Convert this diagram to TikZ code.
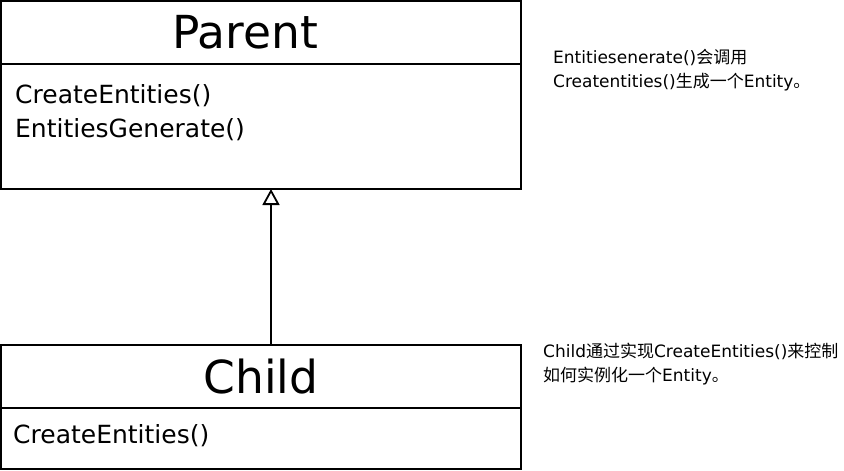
\documentclass[tikz,border=0pt]{standalone}
\usepackage{fontspec}
\setmainfont{DejaVu Sans}
\newfontfamily\cjk{Noto Sans CJK SC}
\usetikzlibrary{positioning,arrows.meta}

\begin{document}
\begin{tikzpicture}[
    x=1pt, y=-1pt,
    node distance=0pt,
    classname/.style={rectangle, draw=black, line width=1.8pt, outer sep=0pt, minimum width=520pt, minimum height=63pt, inner sep=0pt, font=\fontsize{45.5}{50}\selectfont},
    classbody/.style={rectangle, draw=black, line width=1.8pt, outer sep=0pt, minimum width=520pt, inner sep=0pt},
    member/.style={anchor=base west, inner sep=0pt, font=\fontsize{25}{30}\selectfont},
    note/.style={anchor=north west, inner sep=0pt, align=left, font=\fontsize{17}{24}\selectfont},
    inherit/.style={line width=1.8pt, -{Triangle[open, length=16pt, width=17pt]}}
]

\useasboundingbox (0,0) rectangle (844,471);

% Parent class
\node[classname, anchor=north west] (ptitle) at (1,1) {Parent\hspace*{32pt}};
\node[classbody, minimum height=125pt, below=of ptitle] (pbody) {};
\node[member] (pcreate) at (15,103) {CreateEntities()};
\node[member] (pgen) at (15,137) {EntitiesGenerate()};

% Child class
\node[classname, anchor=north west] (ctitle) at (1,345) {Child};
\node[classbody, minimum height=61pt, below=of ctitle] (cbody) {};
\node[member] (ccreate) at (13,443) {CreateEntities()};

% Inheritance
\draw[inherit] ([xshift=10pt]ctitle.north) -- ([xshift=10pt]pbody.south);

% Notes
\node[note] (pnote) at (553,49) {Entitiesenerate(){\cjk 会调用}\\Createntities(){\cjk 生成一个}Entity{\cjk 。}};
\node[note] (cnote) at (543,343) {Child{\cjk 通过实现}CreateEntities(){\cjk 来控制}\\{\cjk 如何实例化一个}Entity{\cjk 。}};

\end{tikzpicture}
\end{document}
